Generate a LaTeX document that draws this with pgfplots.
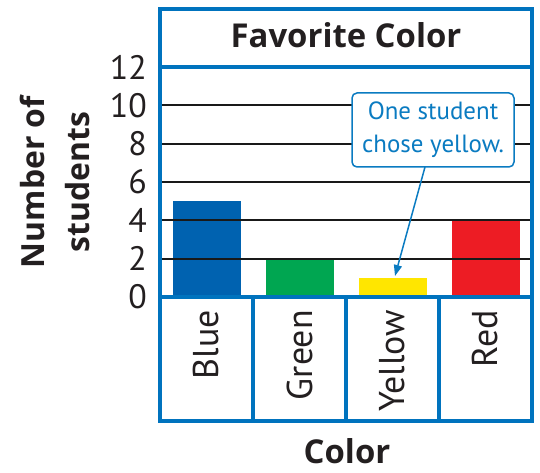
\documentclass[border=0pt]{standalone}
\usepackage{pgfplots}
\pgfplotsset{compat=1.18}
\usepackage{fontspec}
\setmainfont{PT Sans}
\newfontfamily\boldf{Open Sans}[UprightFont=* Bold]
\usetikzlibrary{arrows.meta}
\definecolor{frameblue}{RGB}{0,115,190}
\definecolor{barblue}{RGB}{0,98,176}
\definecolor{bargreen}{RGB}{0,166,81}
\definecolor{baryellow}{RGB}{255,230,0}
\definecolor{barred}{RGB}{237,28,36}
\definecolor{txt}{RGB}{35,31,32}
\definecolor{calloutblue}{RGB}{10,123,193}
\begin{document}
\begin{tikzpicture}[x=1bp,y=1bp]
\path[use as bounding box] (0,0) rectangle (540,473);
\begin{axis}[
  at={(160bp,176bp)}, anchor=south west,
  scale only axis, width=372bp, height=230bp,
  xmin=-0.5, xmax=3.5, ymin=0, ymax=12,
  ytick={0,2,4,6,8,10,12},
  xtick={0,1,2,3},
  xticklabels={Blue,Green,Yellow,Red},
  axis line style={draw=none},
  major tick length=0pt,
  ymajorgrids, grid style={black!90, line width=2bp},
  axis on top,
  /pgf/number format/assume math mode=true,
  yticklabel style={font=\fontsize{34}{34}\selectfont, text=txt, anchor=east, inner sep=0pt},
  yticklabel shift=13bp,
  xticklabel style={font=\fontsize{36}{36}\selectfont, text=txt, rotate=90, anchor=east, inner sep=0pt},
  xticklabel shift=13bp,
  ybar, bar width=68bp,
]
\addplot[fill=barblue, draw=none, bar shift=0pt] coordinates {(0,5)};
\addplot[fill=bargreen, draw=none, bar shift=0pt] coordinates {(1,2)};
\addplot[fill=baryellow, draw=none, bar shift=0pt] coordinates {(2,1)};
\addplot[fill=barred, draw=none, bar shift=0pt] coordinates {(3,4)};
\end{axis}
% frame
\draw[frameblue, line width=4bp] (160,52) rectangle (532,464);
\draw[frameblue, line width=4bp] (160,406) -- (532,406);
\draw[frameblue, line width=4bp] (160,176) -- (532,176);
\draw[frameblue, line width=4bp] (253,52) -- (253,176);
\draw[frameblue, line width=4bp] (346,52) -- (346,176);
\draw[frameblue, line width=4bp] (439,52) -- (439,176);
% title
\node[font=\fontsize{33}{33}\selectfont\boldf, text=txt, anchor=base, inner sep=0pt] at (346,425) {Favorite Color};
% axis labels
\node[font=\fontsize{32}{45}\selectfont\boldf, text=txt, rotate=90, align=center] at (55,291) {Number of\\students};
\node[font=\fontsize{33}{33}\selectfont\boldf, text=txt, anchor=base, inner sep=0pt] at (347,9) {Color};
% callout
\draw[-{Triangle[length=11bp,width=8bp]}, calloutblue, line width=1.5bp] (425,306) -- (395,197);
\draw[calloutblue, line width=1.5bp, fill=white, rounded corners=5bp] (352,306) rectangle (514,380);
\node[font=\fontsize{25}{33}\selectfont, text=calloutblue, align=center] at (433,343) {One student\\chose yellow.};
\end{tikzpicture}
\end{document}
